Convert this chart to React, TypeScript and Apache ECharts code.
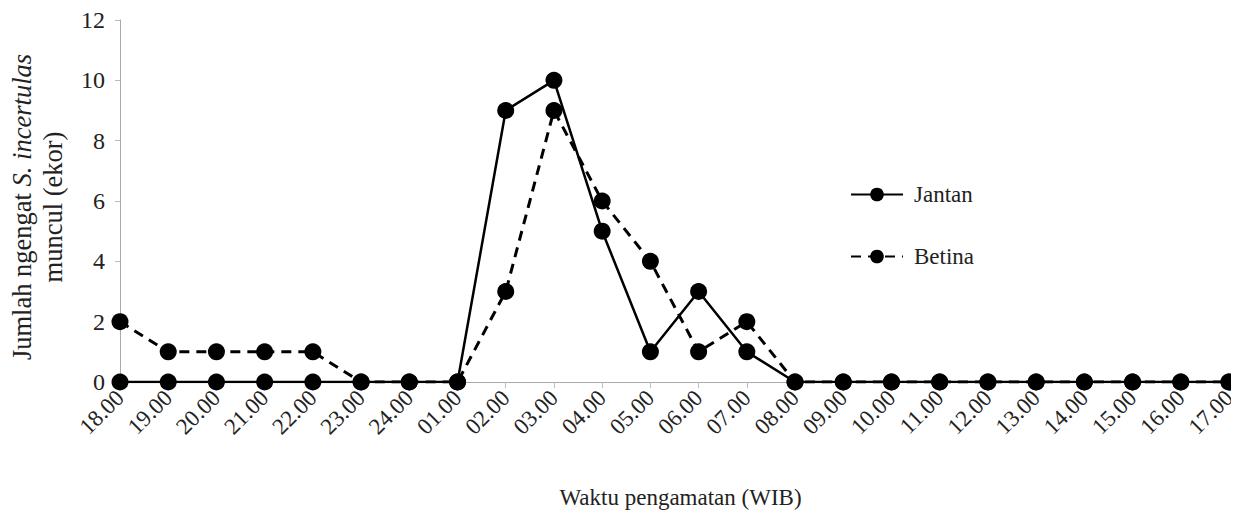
import React, { useEffect, useRef } from "react";
import * as echarts from "echarts";

const categories = [
  "18.00", "19.00", "20.00", "21.00", "22.00", "23.00", "24.00", "01.00",
  "02.00", "03.00", "04.00", "05.00", "06.00", "07.00", "08.00", "09.00",
  "10.00", "11.00", "12.00", "13.00", "14.00", "15.00", "16.00", "17.00",
];
const jantan = [0, 0, 0, 0, 0, 0, 0, 0, 9, 10, 5, 1, 3, 1, 0, 0, 0, 0, 0, 0, 0, 0, 0, 0];
const betina = [2, 1, 1, 1, 1, 0, 0, 0, 3, 9, 6, 4, 1, 2, 0, 0, 0, 0, 0, 0, 0, 0, 0, 0];
const yTitle = "Jumlah ngengat {i|S. incertulas}\nmuncul (ekor)";
const xTitle = "Waktu pengamatan (WIB)";

const FONT = "'Liberation Serif', 'Times New Roman', serif";
const TXT = "#222";

export default function App() {
  const ref = useRef<HTMLDivElement>(null);
  useEffect(() => {
    if (!ref.current) return;
    const chart = echarts.init(ref.current, undefined, { renderer: "svg" });
    chart.setOption({
      animation: false,
      backgroundColor: "#fff",
      textStyle: { fontFamily: FONT },
      grid: { left: 112, right: 10, top: 12, bottom: 136, containLabel: false, outerBoundsMode: "none" },
      legend: {
        orient: "vertical",
        left: 837,
        top: 170,
        itemGap: 39,
        itemWidth: 52,
        itemHeight: 17,
        textStyle: { fontFamily: FONT, fontSize: 23, color: TXT, padding: [0, 0, 0, 6] },
        data: ["Jantan", "Betina"],
      },
      graphic: [
        {
          type: "text",
          x: 29,
          y: 199,
          rotation: Math.PI / 2,
          style: {
            text: yTitle,
            fontFamily: FONT,
            fontSize: 26.5,
            fill: TXT,
            lineHeight: 31,
            align: "center",
            verticalAlign: "middle",
            rich: {
              i: { fontFamily: FONT, fontSize: 26.5, fontStyle: "italic", fill: TXT, lineHeight: 31 },
            },
          },
        },
      ],
      xAxis: {
        type: "category",
        data: categories,
        boundaryGap: false,
        axisLine: { lineStyle: { color: "#aaa", width: 1 } },
        axisTick: { alignWithLabel: true, length: 6, lineStyle: { color: "#bbb" } },
        axisLabel: {
          rotate: 45,
          interval: 0,
          fontFamily: FONT,
          fontSize: 23,
          color: TXT,
          margin: 12,
        },
        name: xTitle,
        nameLocation: "middle",
        nameGap: 104,
        nameTextStyle: { fontFamily: FONT, fontSize: 23, color: TXT, padding: [0, 0, 0, 12] },
      },
      yAxis: {
        type: "value",
        min: 0,
        max: 12,
        interval: 2,
        splitLine: { show: false },
        axisLine: { show: true, lineStyle: { color: "#aaa", width: 1 } },
        axisTick: { show: true, length: 5, lineStyle: { color: "#bbb" } },
        axisLabel: { fontFamily: FONT, fontSize: 24, color: TXT, margin: 15, lineHeight: 22 },
      },
      series: [
        {
          name: "Jantan",
          type: "line",
          data: jantan,
          symbol: "circle",
          symbolSize: 17,
          itemStyle: { color: "#000" },
          lineStyle: { color: "#000", width: 2.5, type: "solid" },
          z: 3,
        },
        {
          name: "Betina",
          type: "line",
          data: betina,
          symbol: "circle",
          symbolSize: 17,
          itemStyle: { color: "#000" },
          lineStyle: { color: "#000", width: 3, type: [10, 7] },
          z: 2,
        },
      ],
    });
    return () => chart.dispose();
  }, []);
  return <div ref={ref} style={{ width: 1231, height: 510 }} />;
}
